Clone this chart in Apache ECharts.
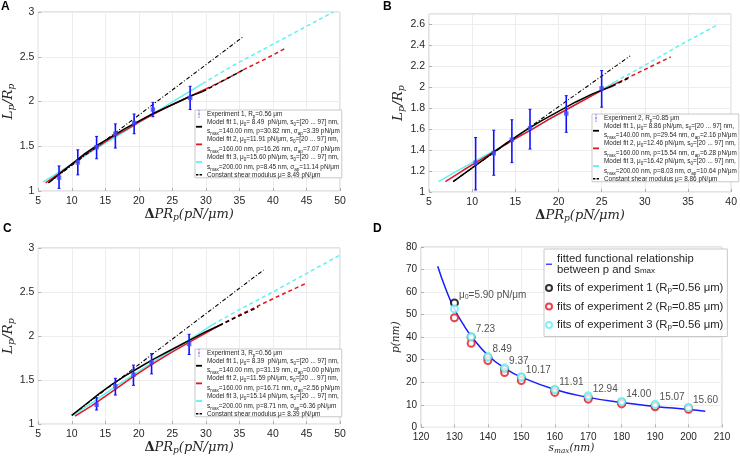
<!DOCTYPE html>
<html><head><meta charset="utf-8">
<script src="https://cdn.jsdelivr.net/npm/echarts@6/dist/echarts.min.js"></script>
<style>html,body{margin:0;padding:0;background:#fff}#c{width:740px;height:456px}</style>
</head><body><div id="c"></div><script>
// ---------- Panel A data ----------
const A_x  = [8.1, 10.9, 13.7, 16.5, 19.3, 22.1, 27.65];
const A_y  = [1.15, 1.32, 1.49, 1.64, 1.76, 1.91, 2.04];
const A_lo = [1.03, 1.18, 1.36, 1.48, 1.64, 1.83, 1.91];
const A_hi = [1.28, 1.46, 1.61, 1.75, 1.86, 1.99, 2.17];
const A_fit1  = [[6.5,1.09],[8,1.18],[10,1.30],[12,1.42],[14,1.52],[16,1.61],[18,1.70],[20,1.78],[22,1.86],[24,1.93],[26,2.0],[28,2.07],[29.5,2.11]];
const A_fit1x = [[29.5,2.11],[32.5,2.23],[35.5,2.35]];
const A_fit2  = [[6.1,1.09],[8,1.19],[10,1.30],[12,1.41],[14,1.50],[16,1.60],[18,1.68],[20,1.77],[22,1.85],[24,1.93],[26,2.0],[28,2.07],[30,2.14]];
const A_fit2x = [[30,2.14],[33,2.25],[36,2.37],[39,2.48],[42,2.6]];
const A_fit3  = [[5.7,1.1],[10,1.30],[14,1.49],[18,1.67],[22,1.86],[26,2.04],[29.5,2.2]];
const A_fit3x = [[29.5,2.2],[34,2.4],[39,2.6],[44,2.8],[49,3.0]];
const A_const = [[6.7,1.1],[35.5,2.72]];
// ---------- Panel B data ----------
const B_x  = [10.4, 12.5, 14.6, 16.7, 20.9, 25.0];
const B_y  = [1.28, 1.37, 1.50, 1.61, 1.75, 1.99];
const B_lo = [1.02, 1.16, 1.28, 1.41, 1.57, 1.81];
const B_hi = [1.52, 1.59, 1.69, 1.79, 1.92, 2.16];
const B_fit1  = [[7.8,1.1],[10,1.23],[12,1.35],[14,1.47],[16,1.58],[18,1.68],[20,1.77],[22,1.86],[24,1.94],[26.2,2.01]];
const B_fit1x = [[26.2,2.01],[28.4,2.1]];
const B_fit2  = [[6.9,1.1],[9,1.21],[11,1.31],[13,1.41],[15,1.51],[17,1.60],[19,1.70],[21,1.79],[23,1.88],[25,1.97],[27,2.05]];
const B_fit2x = [[27,2.05],[30,2.17],[33,2.29]];
const B_fit3  = [[6.1,1.1],[8,1.19],[10,1.28],[12,1.37],[14,1.46],[16,1.56],[18,1.65],[20,1.74],[22,1.84],[24,1.93],[26.5,2.05]];
const B_fit3x = [[26.5,2.05],[30,2.21],[34,2.4],[38.5,2.6]];
const B_const = [[7.8,1.1],[28.3,2.3]];
// ---------- Panel C data ----------
const C_x  = [13.7, 16.5, 19.2, 21.9, 27.5];
const C_y  = [1.22, 1.43, 1.56, 1.70, 1.91];
const C_lo = [1.16, 1.33, 1.44, 1.57, 1.79];
const C_hi = [1.30, 1.52, 1.67, 1.80, 2.02];
const C_fit1  = [[10,1.1],[12,1.22],[14,1.34],[16,1.45],[18,1.55],[20,1.64],[22,1.73],[24,1.81],[26,1.89],[28,1.97],[30,2.05],[32,2.12]];
const C_fit1x = [[32,2.12],[35,2.23],[37.8,2.33]];
const C_fit2  = [[10.5,1.09],[13,1.21],[16,1.37],[19,1.53],[22,1.68],[25,1.82],[28,1.95],[32,2.12]];
const C_fit2x = [[32,2.12],[35,2.24],[38,2.35],[41,2.46],[45,2.6]];
const C_fit3  = [[10.2,1.1],[13,1.24],[16,1.40],[19,1.55],[22,1.70],[25,1.84],[28,1.98],[31,2.13]];
const C_fit3x = [[31,2.13],[35,2.3],[40,2.5],[45,2.71],[50,2.92]];
const C_const = [[10,1.1],[38.6,2.75]];
// ---------- Panel D data ----------
const D_smax  = [130, 135, 140, 145, 150, 160, 170, 180, 190, 200];
const D_exp1  = [55.2, 40.0, 31.0, 25.8, 22.0, 16.5, 13.2, 11.0, 9.6, 8.5];
const D_exp2  = [48.6, 37.3, 29.6, 24.3, 20.8, 15.5, 12.5, 10.4, 9.1, 8.0];
const D_exp3  = [52.6, 40.2, 31.4, 26.4, 22.5, 16.9, 14.0, 11.5, 10.2, 8.8];
const D_mu0   = ['5.90','7.23','8.49','9.37','10.17','11.91','12.94','14.00','15.07','15.60'];
const D_curveX = [125, 127.5, 130, 132.5, 135, 140, 145, 150, 160, 170, 180, 190, 200, 205];
const D_curveY = [71.5, 61, 52.5, 46, 40.5, 32, 26.3, 22.3, 16.8, 13.3, 11.0, 9.3, 7.9, 7.1];
// ---------- Legend texts ----------
const legA = ['Experiment 1, R_{p}=0.56 μm',
 'Model fit 1, μ_{0}= 8.49  pN/μm, s_{0}=[20 ... 97] nm,\ns_{max}=140.00 nm, p=30.82 nm, σ_{ap}=3.39 pN/μm',
 'Model fit 2, μ_{0}=11.91 pN/μm, s_{0}=[20 ... 97] nm,\ns_{max}=160.00 nm, p=16.26 nm, σ_{ap}=7.07 pN/μm',
 'Model fit 3, μ_{0}=15.60 pN/μm, s_{0}=[20 ... 97] nm,\ns_{max}=200.00 nm, p=8.45 nm, σ_{ap}=11.14 pN/μm',
 'Constant shear modulus μ= 8.49 pN/μm'];
const legB = ['Experiment 2, R_{p}=0.85 μm',
 'Model fit 1, μ_{0}= 8.86 pN/μm, s_{0}=[20 ... 97] nm,\ns_{max}=140.00 nm, p=29.54 nm, σ_{ap}=2.16 pN/μm',
 'Model fit 2, μ_{0}=12.46 pN/μm, s_{0}=[20 ... 97] nm,\ns_{max}=160.00 nm, p=15.54 nm, σ_{ap}=6.28 pN/μm',
 'Model fit 3, μ_{0}=16.42 pN/μm, s_{0}=[20 ... 97] nm,\ns_{max}=200.00 nm, p=8.03 nm, σ_{ap}=10.64 pN/μm',
 'Constant shear modulus μ= 8.86 pN/μm'];
const legC = ['Experiment 3, R_{p}=0.56 μm',
 'Model fit 1, μ_{0}= 8.39  pN/μm, s_{0}=[20 ... 97] nm,\ns_{max}=140.00 nm, p=31.19 nm, σ_{ap}=0.00 pN/μm',
 'Model fit 2, μ_{0}=11.59 pN/μm, s_{0}=[20 ... 97] nm,\ns_{max}=160.00 nm, p=16.71 nm, σ_{ap}=2.56 pN/μm',
 'Model fit 3, μ_{0}=15.14 pN/μm, s_{0}=[20 ... 97] nm,\ns_{max}=200.00 nm, p=8.71 nm, σ_{ap}=6.36 pN/μm',
 'Constant shear modulus μ= 8.39 pN/μm'];
const legD = ['fitted functional relationship\nbetween p and s_{max}',
 'fits of experiment 1 (R_{p}=0.56 μm)',
 'fits of experiment 2 (R_{p}=0.85 μm)',
 'fits of experiment 3 (R_{p}=0.56 μm)'];

function toRich(s, tk, sk){
  tk = tk || 't'; sk = sk || 's';
  return s.split('\n').map(line => {
    let out = '', last = 0, m; const re = /_\{([^}]*)\}/g;
    while ((m = re.exec(line))) {
      if (m.index > last) out += '{' + tk + '|' + line.slice(last, m.index) + '}';
      out += '{' + sk + '|' + m[1] + '}';
      last = re.lastIndex;
    }
    if (last < line.length) out += '{' + tk + '|' + line.slice(last) + '}';
    return out;
  }).join('\n');
}

const LEG = {};
const keys = ['exp','fit1','fit2','fit3','const'];
[['A',legA],['B',legB],['C',legC]].forEach(([p,arr]) => keys.forEach((k,i)=>{ LEG[p+'_'+k] = toRich(arr[i]); }));
['D_fit','D_e1','D_e2','D_e3'].forEach((k,i)=>{ LEG[k] = toRich(legD[i]); });

const SANS = 'Liberation Sans, Arial, sans-serif';
const SERIF = 'DejaVu Serif, serif';
const TXT = '#262626';
const BORDER = '#c8c8c8';
const GRIDC = '#ededed';

const grids = [
  {left:37, top:12, width:303, height:179},
  {left:429, top:14, width:303, height:178},
  {left:36, top:248, width:304, height:180},
  {left:421, top:247, width:301, height:181}
].map(g => Object.assign(g, {show:true, borderColor:BORDER, borderWidth:1, backgroundColor:'#fff'}));

function xAx(gi, min, max, interval, name, gap, fs) {
  return {gridIndex:gi, type:'value', min, max, interval,
    name, nameLocation:'middle', nameGap:gap,
    nameTextStyle:{fontFamily:SERIF, fontStyle:'italic', color:TXT, fontSize:fs,
      rich:{u:{fontFamily:SERIF, fontStyle:'normal', fontWeight:'bold', fontSize:fs, color:TXT},
            i:{fontFamily:SERIF, fontStyle:'italic', fontSize:fs, color:TXT, lineHeight:fs+2},
            s:{fontFamily:SERIF, fontStyle:'italic', fontSize:fs*0.7, color:TXT, verticalAlign:'bottom', lineHeight:fs*0.55}}},
    axisLine:{show:false}, axisTick:{show:true, inside:true, length:3, lineStyle:{color:'#b0b0b0'}},
    axisLabel:{fontFamily:SANS, fontSize:fs>11?10.5:10, color:TXT, margin:5},
    splitLine:{show:true, lineStyle:{color:GRIDC, width:1}}};
}
function yAx(gi, min, max, interval, name, gap, fs, extra) {
  return Object.assign({gridIndex:gi, type:'value', min, max, interval,
    name, nameLocation:'middle', nameGap:gap, nameRotate:90,
    nameTextStyle:{fontFamily:SERIF, fontStyle:'italic', color:TXT, fontSize:fs,
      rich:{i:{fontFamily:SERIF, fontStyle:'italic', fontSize:fs, color:TXT, lineHeight:fs+2},
            s:{fontFamily:SERIF, fontStyle:'italic', fontSize:fs*0.7, color:TXT, verticalAlign:'bottom', lineHeight:fs*0.55}}},
    axisLine:{show:false}, axisTick:{show:true, inside:true, length:3, lineStyle:{color:'#b0b0b0'}},
    axisLabel:{fontFamily:SANS, fontSize:fs>11?10.5:10, color:TXT, margin:4},
    splitLine:{show:true, lineStyle:{color:GRIDC, width:1}}}, extra||{});
}

const XNAME = '{u|Δ}{i|PR}{s|p}{i|(pN/μm)}';
const YNAME = '{i|L}{s|p}{i|/R}{s|p}';

const xAxes = [
  xAx(0, 5, 50, 5, XNAME, 14, 13),
  xAx(1, 5, 40, 5, XNAME, 14, 13),
  xAx(2, 5, 50, 5, XNAME, 14, 13),
  xAx(3, 120, 210, 10, '{i|s}{s|max}{i|(nm)}', 13, 10.5)
];
const yAxes = [
  yAx(0, 1, 3, 0.5, YNAME, 16, 13.5),
  yAx(1, 1, 2.7, 0.2, YNAME, 18, 13.5, {}),
  yAx(2, 1, 3, 0.5, YNAME, 16, 13.5),
  yAx(3, 0, 80, 10, '{i|p(nm)}', 12, 10.5)
];
yAxes[1].axisLabel.showMaxLabel = false;

function lineS(name, data, gi, color, width, type, z, smooth) {
  return {name, type:'line', xAxisIndex:gi, yAxisIndex:gi, data, symbol:'none', showSymbol:false,
    smooth: smooth || false, lineStyle:{color, width, type}, itemStyle:{color}, z: z || 2, silent:true};
}
function errS(gi, xs, lo, hi) {
  return {type:'custom', xAxisIndex:gi, yAxisIndex:gi, z:5, silent:true,
    data: xs.map((x,i)=>[x, lo[i], hi[i]]),
    encode:{x:0, y:[1,2]},
    renderItem(params, api){
      const x = api.value(0);
      const p1 = api.coord([x, api.value(1)]), p2 = api.coord([x, api.value(2)]);
      const w = 1.5, st = {stroke:'#1010ff', lineWidth:1.6};
      return {type:'group', children:[
        {type:'line', shape:{x1:p1[0], y1:p1[1], x2:p2[0], y2:p2[1]}, style:st},
        {type:'line', shape:{x1:p1[0]-w, y1:p1[1], x2:p1[0]+w, y2:p1[1]}, style:{stroke:'#1010ff', lineWidth:1}},
        {type:'line', shape:{x1:p2[0]-w, y1:p2[1], x2:p2[0]+w, y2:p2[1]}, style:{stroke:'#1010ff', lineWidth:1}}
      ]};
    }};
}
function scatS(name, gi, xs, ys) {
  return {name, type:'scatter', xAxisIndex:gi, yAxisIndex:gi, z:6, silent:true,
    data: xs.map((x,i)=>[x, ys[i]]), symbol:'rect', symbolSize:4.5,
    itemStyle:{color:'#4646ff'}};
}

const CYAN = '#5ef2f2', RED = '#e8141e', BLACK = '#000000';
const DASH = [4,3], DASHDOT = [4,2,1,2];
const series = [];
const panels = [
  ['A',0,A_x,A_y,A_lo,A_hi,A_fit1,A_fit1x,A_fit2,A_fit2x,A_fit3,A_fit3x,A_const],
  ['B',1,B_x,B_y,B_lo,B_hi,B_fit1,B_fit1x,B_fit2,B_fit2x,B_fit3,B_fit3x,B_const],
  ['C',2,C_x,C_y,C_lo,C_hi,C_fit1,C_fit1x,C_fit2,C_fit2x,C_fit3,C_fit3x,C_const]
];
panels.forEach(([p,gi,xs,ys,lo,hi,f1,f1x,f2,f2x,f3,f3x,cst]) => {
  series.push(lineS(p+'_fit3', f3, gi, CYAN, 1.5, 'solid', 2));
  series.push(lineS(p+'_fit3x', f3x, gi, CYAN, 1.5, DASH, 2));
  series.push(lineS(p+'_fit2', f2, gi, RED, 1.5, 'solid', 3));
  series.push(lineS(p+'_fit2x', f2x, gi, RED, 1.5, DASH, 3));
  series.push(lineS(p+'_fit1', f1, gi, BLACK, 1.5, 'solid', 4));
  series.push(lineS(p+'_fit1x', f1x, gi, BLACK, 1.5, DASH, 4));
  series.push(lineS(p+'_const', cst, gi, BLACK, 1.1, DASHDOT, 4));
  series.push(errS(gi, xs, lo, hi));
  series.push(scatS(p+'_exp', gi, xs, ys));
});

// Panel D
series.push(lineS('D_fit', D_curveX.map((x,i)=>[x, D_curveY[i]]), 3, '#1a1aff', 1.5, 'solid', 2, true));
function circS(name, ys, color, withLabels) {
  const s = {name, type:'scatter', xAxisIndex:3, yAxisIndex:3, z:5, silent:true,
    data: D_smax.map((x,i)=>[x, ys[i]]), symbol:'emptyCircle', symbolSize:7,
    itemStyle:{color, borderColor:color, borderWidth:1.3}};
  if (withLabels) {
    s.label = {show:true, position:'right', offset:[-5,-8], color:TXT, fontFamily:SANS, fontSize:10,
      formatter: (pr) => pr.dataIndex === 0 ? '{t|μ}{s|0}{t|=' + D_mu0[0] + ' pN/μm}' : '{t|' + D_mu0[pr.dataIndex] + '}',
      rich:{t:{fontFamily:SANS, fontSize:10, color:TXT, lineHeight:12},
            s:{fontFamily:SANS, fontSize:7, color:TXT, verticalAlign:'bottom', lineHeight:6}}};
  }
  return s;
}
series.push(circS('D_e1', D_exp1, '#000000', true));
series.push(circS('D_e2', D_exp2, '#e8141e', false));
series.push(circS('D_e3', D_exp3, '#5ef2f2', false));

const EXP_ICON = 'path://M4.4,0H5.6V20H4.4Z M3.4,0H6.6V1H3.4Z M3.4,19H6.6V20H3.4Z M3.2,8.4H6.8V11.6H3.2Z';
const LINE_ICON = 'path://M0,0H10V3H0Z';
const DASH_ICON = 'path://M0,0H4V2.5H0Z M6,0H10V2.5H6Z';
function legSmall(p, left, top) {
  return {left, top, orient:'vertical', selectedMode:false, backgroundColor:'#fff',
    borderColor:BORDER, borderWidth:1, padding:[0,2,0,1], itemGap:0, itemWidth:6, itemHeight:8,
    data:[{name:p+'_exp', icon:EXP_ICON}, {name:p+'_fit1', icon:LINE_ICON}, {name:p+'_fit2', icon:LINE_ICON},
          {name:p+'_fit3', icon:LINE_ICON}, {name:p+'_const', icon:DASH_ICON}],
    formatter: n => LEG[n],
    textStyle:{fontFamily:SANS, fontSize:6.4, color:TXT,
      rich:{t:{fontFamily:SANS, fontSize:6.4, color:TXT, lineHeight:9.75},
            s:{fontFamily:SANS, fontSize:4.6, color:TXT, verticalAlign:'bottom', lineHeight:5}}}};
}
const legends = [
  legSmall('A', 195, 110),
  legSmall('B', 592, 114),
  legSmall('C', 195, 349),
  {left:544, top:249, orient:'vertical', selectedMode:false, backgroundColor:'#fff',
    borderColor:BORDER, borderWidth:1, padding:[4.4,4,6,1], itemGap:7.5, itemWidth:6, itemHeight:6,
    data:[{name:'D_fit', icon:'path://M0,0H10V2H0Z'},'D_e1','D_e2','D_e3'],
    formatter: n => LEG[n],
    textStyle:{fontFamily:SANS, fontSize:11.3, color:TXT,
      rich:{t:{fontFamily:SANS, fontSize:11.3, color:TXT, lineHeight:10.6},
            s:{fontFamily:SANS, fontSize:8, color:TXT, verticalAlign:'bottom', lineHeight:5}}}}
];

const titles = [['A',1,1],['B',383,1],['C',3,223],['D',373,223]].map(([t,l,tp]) => ({
  text:t, left:l, top:tp, padding:0, textStyle:{fontFamily:SANS, fontSize:12, fontWeight:'bold', color:'#000'}}));

const chart = echarts.init(document.getElementById('c'));
chart.setOption({
  animation:false,
  backgroundColor:'#fff',
  title: titles,
  grid: grids,
  xAxis: xAxes,
  yAxis: yAxes,
  legend: legends,
  series
});
</script></body></html>
